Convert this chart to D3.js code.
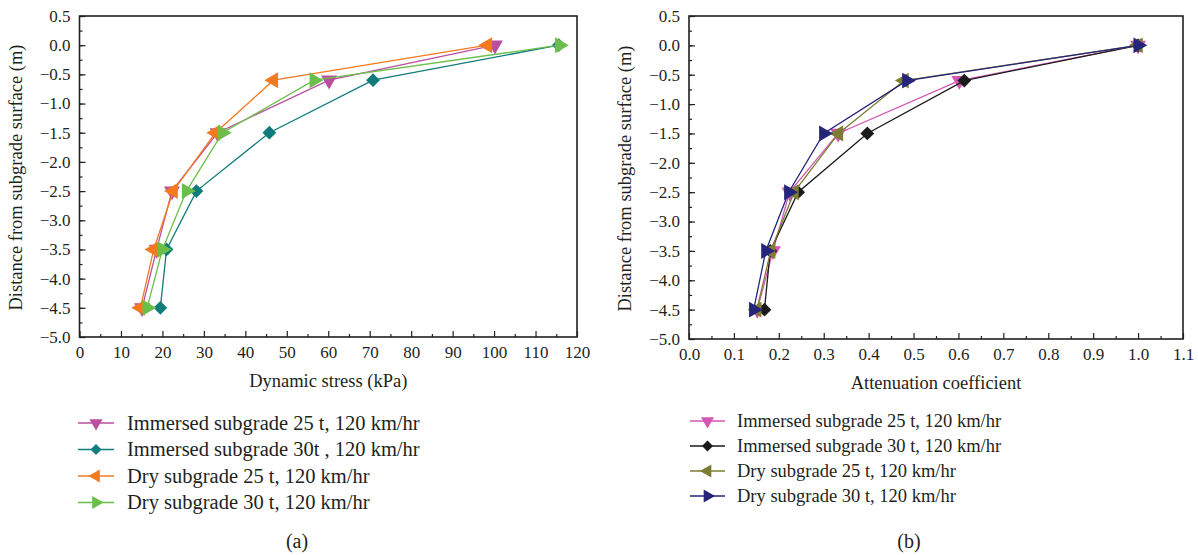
<!DOCTYPE html>
<html><head><meta charset="utf-8">
<script src="https://cdn.jsdelivr.net/npm/d3@7"></script>
<style>
body{margin:0;background:#fff;}
svg{display:block;}
svg text{font-family:"Liberation Serif","DejaVu Serif";fill:#231f20;}
</style></head>
<body>
<svg id="c" width="1198" height="555"></svg>
<script>
// ---- data ----
const depths = [0, -0.6, -1.5, -2.5, -3.5, -4.5];

const seriesA = ["Immersed subgrade 25 t, 120 km/hr", "Immersed subgrade 30t , 120 km/hr", "Dry subgrade 25 t, 120 km/hr", "Dry subgrade 30 t, 120 km/hr"];
const immersed25Stress = [100.2, 60.2, 33.3, 22.3, 18.6, 15.1];
const immersed30Stress = [115.6, 70.8, 45.8, 28.2, 21.0, 19.5];
const dry25Stress      = [98.4, 46.8, 32.8, 22.6, 17.9, 14.7];
const dry30Stress      = [115.8, 56.6, 34.5, 25.8, 20.0, 16.3];

const seriesB = ["Immersed subgrade 25 t, 120 km/hr", "Immersed subgrade 30 t, 120 km/hr", "Dry subgrade 25 t, 120 km/hr", "Dry subgrade 30 t, 120 km/hr"];
const immersed25Coef = [1.0, 0.602, 0.332, 0.224, 0.187, 0.152];
const immersed30Coef = [1.0, 0.613, 0.397, 0.243, 0.181, 0.168];
const dry25Coef      = [1.0, 0.479, 0.333, 0.234, 0.182, 0.151];
const dry30Coef      = [1.0, 0.485, 0.300, 0.222, 0.171, 0.144];

const xTicksA = [0,10,20,30,40,50,60,70,80,90,100,110,120];
const xTicksB = [0,0.1,0.2,0.3,0.4,0.5,0.6,0.7,0.8,0.9,1.0,1.1];
const yTicks = [0.5,0,-0.5,-1,-1.5,-2,-2.5,-3,-3.5,-4,-4.5,-5];

const FONT = "'Liberation Serif','DejaVu Serif'";
const svg = d3.select("#c");
const fmtY = d => d3.format(".1f")(d).replace("-", "\u2212");

function panel(cfg){
  const g = svg.append("g");
  const x = d3.scaleLinear().domain(cfg.xDomain).range(cfg.xRange);
  const y = d3.scaleLinear().domain([-5, 0.5]).range(cfg.yRange);
  const [x0,x1] = cfg.xRange, [y1,y0] = cfg.yRange;

  // minor ticks
  g.append("g").attr("transform",`translate(0,${y1})`)
    .call(d3.axisBottom(x).tickValues(cfg.xMinor).tickSize(-3).tickFormat(""))
    .call(a=>a.select(".domain").remove());
  g.append("g").attr("transform",`translate(${x0},0)`)
    .call(d3.axisLeft(y).tickValues(d3.range(-5,0.51,0.25)).tickSize(-3).tickFormat(""))
    .call(a=>a.select(".domain").remove());
  // major ticks
  const xa = g.append("g").attr("transform",`translate(0,${y1})`)
    .call(d3.axisBottom(x).tickValues(cfg.xTicks).tickSize(-6).tickPadding(9).tickFormat(cfg.xFmt));
  xa.select(".domain").remove();
  const ya = g.append("g").attr("transform",`translate(${x0},0)`)
    .call(d3.axisLeft(y).tickValues(yTicks).tickSize(-6).tickPadding(9).tickFormat(fmtY));
  ya.select(".domain").remove();
  g.selectAll("g").attr("font-family",FONT);
  g.selectAll(".tick line").attr("stroke","#231f20").attr("stroke-width",1.2);
  g.selectAll(".tick text").attr("font-size",17).attr("fill","#231f20");

  g.append("rect").attr("x",x0).attr("y",y0).attr("width",x1-x0).attr("height",y1-y0)
    .attr("fill","none").attr("stroke","#231f20").attr("stroke-width",1.6);

  // axis titles
  g.append("text").attr("x",(x0+x1)/2).attr("y",y1+50).attr("text-anchor","middle")
    .attr("font-size",18.5).text(cfg.xTitle);
  g.append("text").attr("transform",`translate(${cfg.yTitleX},${(y0+y1)/2+1}) rotate(-90)`)
    .attr("text-anchor","middle").attr("font-size",18.5).text("Distance from subgrade surface (m)");

  const line = d3.line().x(d=>x(d[0])).y(d=>y(d[1]));
  cfg.series.forEach((s,i)=>{
    const pts = s.values.map((v,j)=>[v,depths[j]]);
    g.append("path").datum(pts).attr("d",line).attr("fill","none")
      .attr("stroke",s.color).attr("stroke-width",1.3);
    g.selectAll(null).data(pts).join("path")
      .attr("d",d3.symbol().type(s.sym).size(s.sym===d3.symbolSquare?95:110))
      .attr("transform",d=>`translate(${x(d[0])},${y(d[1])}) rotate(${s.rot})`)
      .attr("fill",s.color);
  });

  // legend
  const L = cfg.legend;
  cfg.series.forEach((s,i)=>{
    const yy = L.y + i*L.dy;
    g.append("line").attr("x1",L.x).attr("x2",L.x+L.len).attr("y1",yy).attr("y2",yy)
      .attr("stroke",s.color).attr("stroke-width",1.6);
    g.append("path").attr("d",d3.symbol().type(s.sym).size(s.sym===d3.symbolSquare?60:75))
      .attr("transform",`translate(${L.x+L.len/2},${yy}) rotate(${s.rot})`).attr("fill",s.color);
    g.append("text").attr("x",L.tx).attr("y",yy).attr("dy","0.33em")
      .attr("font-size",L.fs).text(s.name);
  });
  g.append("text").attr("x",cfg.cap[0]).attr("y",cfg.cap[1]).attr("text-anchor","middle")
    .attr("dy","0.33em").attr("font-size",20).text(cfg.capText);
  g.selectAll("text").style("font-family",FONT);
}

panel({
  xDomain:[0,120], xRange:[79.5,577], yRange:[337,16],
  xTicks:xTicksA, xMinor:d3.range(5,120,10), xFmt:d3.format("d"),
  xTitle:"Dynamic stress (kPa)", yTitleX:22,
  series:[
    {name:seriesA[0], values:immersed25Stress, color:"#b9509f", sym:d3.symbolTriangle, rot:180},
    {name:seriesA[1], values:immersed30Stress, color:"#0f7c7b", sym:d3.symbolSquare, rot:45},
    {name:seriesA[2], values:dry25Stress, color:"#f47a20", sym:d3.symbolTriangle, rot:-90},
    {name:seriesA[3], values:dry30Stress, color:"#6cbe4a", sym:d3.symbolTriangle, rot:90}
  ],
  legend:{x:78, len:36, tx:127, y:423, dy:26.5, fs:20.5},
  cap:[297,541], capText:"(a)"
});
panel({
  xDomain:[0,1.1], xRange:[689,1183], yRange:[339,16],
  xTicks:xTicksB, xMinor:d3.range(0.05,1.1,0.1), xFmt:d3.format(".1f"),
  xTitle:"Attenuation coefficient", yTitleX:631,
  series:[
    {name:seriesB[0], values:immersed25Coef, color:"#d556b3", sym:d3.symbolTriangle, rot:180},
    {name:seriesB[1], values:immersed30Coef, color:"#1a1a1a", sym:d3.symbolSquare, rot:45},
    {name:seriesB[2], values:dry25Coef, color:"#7c7c34", sym:d3.symbolTriangle, rot:-90},
    {name:seriesB[3], values:dry30Coef, color:"#24247a", sym:d3.symbolTriangle, rot:90}
  ],
  legend:{x:690, len:35, tx:737, y:421, dy:25, fs:18.5},
  cap:[909,541], capText:"(b)"
});
</script>
</body></html>
